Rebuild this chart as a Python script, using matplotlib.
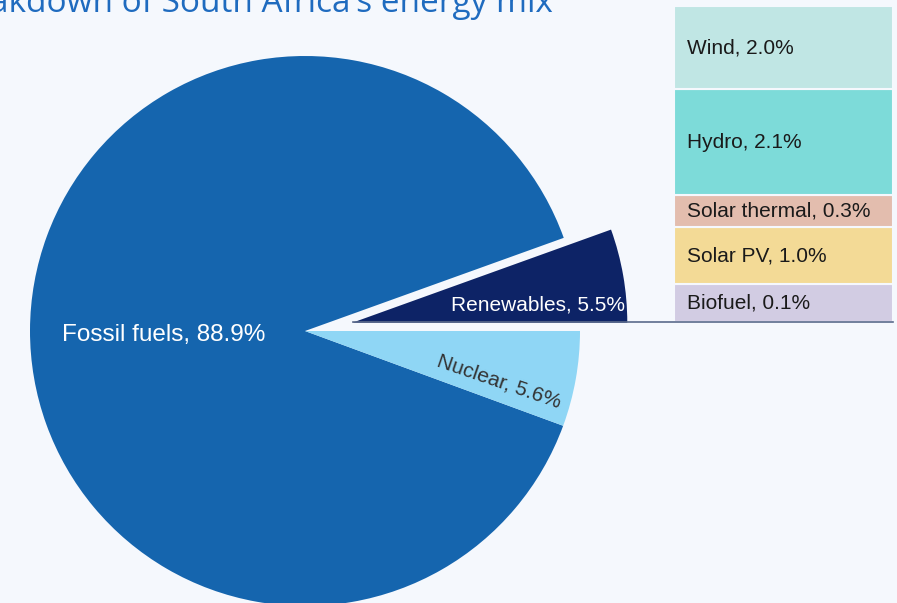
import numpy as np
from matplotlib import pyplot as plt

# pie data (percent of total energy mix)
pie_labels = ["Renewables", "Fossil fuels", "Nuclear"]
pie_values = [5.5, 88.9, 5.6]
pie_colors = ["#0D2366", "#1565AE", "#8FD6F5"]

# breakdown of renewables, listed bottom to top
ren_labels = ["Biofuel", "Solar PV", "Solar thermal", "Hydro", "Wind"]
ren_values = [0.1, 1.0, 0.3, 2.1, 2.0]
ren_colors = ["#D2CCE3", "#F3DA96", "#E3BDAE", "#7DDBD9", "#C0E6E4"]
# boxes are not drawn to scale in the original, these are layout heights in px
box_h = [38, 57, 32, 106, 83]

bg = "#F5F8FD"
W, H = 897, 603

fig = plt.figure(figsize=(W / 100, H / 100), dpi=100, facecolor=bg)
ax = fig.add_axes([0, 0, 1, 1])
ax.set_facecolor(bg)

cx, cy, r = 305, H - 331, 275
wedges, _ = ax.pie(pie_values, colors=pie_colors, startangle=0, counterclock=True,
                   explode=[48, 0, 0], center=(cx, cy), radius=r,
                   wedgeprops=dict(linewidth=0))

ax.set_xlim(0, W)
ax.set_ylim(0, H)
ax.set_aspect("equal")
ax.axis("off")

font = "Liberation Sans"
ax.text(62, H - 335, f"{pie_labels[1]}, {pie_values[1]}%", color="white",
        fontsize=17.5, family=font, ha="left", va="center")
ax.text(625, H - 305, f"{pie_labels[0]}, {pie_values[0]}%", color="white",
        fontsize=15, family=font, ha="right", va="center")
ax.text(499, H - 382, f"{pie_labels[2]}, {pie_values[2]}%", color="#333333",
        fontsize=15, family=font, ha="center", va="center", rotation=-19,
        rotation_mode="anchor")

# stacked breakdown bar
bx0, bx1 = 674, 893
bottom = H - 322
y = bottom
for lab, val, col, h in zip(ren_labels, ren_values, ren_colors, box_h):
    ax.bar((bx0 + bx1) / 2, h, width=bx1 - bx0, bottom=y, color=col,
           edgecolor=bg, linewidth=1.5)
    ax.text(bx0 + 13, y + h / 2, f"{lab}, {val}%", color="#1a1a1a",
            fontsize=15, family=font, ha="left", va="center")
    y += h

# connector from renewables wedge to bar
ax.plot([cx + 48, bx1], [bottom, bottom], color="#5B6B8C", linewidth=1.2)

# title, cut off at the top-left in the original
fig.text(553 / W, 1 - 12 / H, "Breakdown of South Africa\u2019s energy mix",
         color="#1F6BBF", fontsize=24, family="Open Sans", ha="right",
         va="baseline")

fig.savefig("out.png", dpi=100, facecolor=bg)
